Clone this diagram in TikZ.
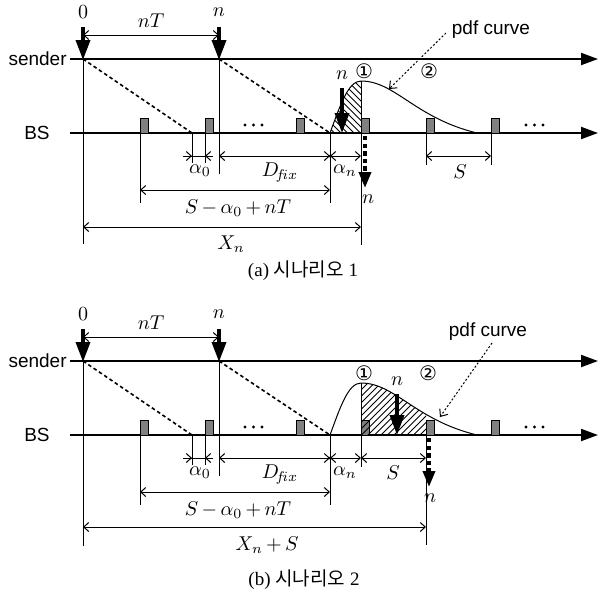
\documentclass[tikz,border=0pt]{standalone}
\usepackage{fontspec}
\setmainfont{Liberation Serif}
\newfontfamily\arialf{Liberation Sans}
\newfontfamily\korf{Noto Sans CJK KR}
\newfontfamily\symf{DejaVu Sans}
\usetikzlibrary{arrows.meta}
\tikzset{
 axisline/.style={line width=1pt,-{Triangle[length=8.5pt,width=6pt]}},
 thinline/.style={line width=0.5pt},
 bigarrow/.style={line width=1.8pt,-{Triangle[length=10pt,width=7pt]}},
 dasharrow/.style={line width=1.8pt,dash pattern=on 2.2pt off 1.6pt,-{Triangle[length=8pt,width=6pt]}},
 dimline/.style={line width=0.5pt,{Straight Barb[length=2.5pt,width=4.5pt]}-{Straight Barb[length=2.5pt,width=4.5pt]}},
 barbend/.style={line width=0.5pt,-{Straight Barb[length=2.5pt,width=4.5pt]}},
 pulse/.style={draw=black,line width=0.4pt,fill=gray},
 slant/.style={line width=0.8pt,dash pattern=on 1.8pt off 1.4pt},
 pointer/.style={line width=0.5pt,dash pattern=on 1pt off 1pt,-{Straight Barb[length=3pt,width=5pt]}},
 pdfline/.style={line width=0.5pt},
 hatch/.style={line width=0.5pt},
 sans/.style={font=\fontsize{9.5}{11}\selectfont\arialf,inner sep=0pt},
 mlabel/.style={font=\fontsize{10}{12}\selectfont,inner sep=0pt},
 circnum/.style={font=\fontsize{10}{11}\selectfont\symf,inner sep=0pt},
 capt/.style={font=\fontsize{9.5}{11}\selectfont,inner sep=0pt},
}
\newcommand\commonparts[1]{%
 \draw[axisline] (70,59) -- (598,59);
 \draw[axisline] (70,133) -- (598,133);
 \node[sans,anchor=east] (snd#1) at (67,59) {sender};
 \node[sans] (bs#1) at (37,133) {BS};
 \node[mlabel] (zero#1) at (83,12) {$0$};
 \node[mlabel] (ntop#1) at (219,12) {$n$};
 \draw[slant] (83,59) -- (192,133);
 \draw[slant] (219,59) -- (330,133);
 \foreach \x in {140,205,296,361,426,491} \draw[pulse] (\x,133) rectangle ++(8,-15);
 \foreach \x in {245,253.5,262,526,534.5,543} \fill (\x,125) circle (1.7);
 \draw[thinline] (83,59) -- (83,244);
 \draw[thinline] (140,133) -- (140,203);
 \draw[thinline] (192,133) -- (192,163);
 \draw[thinline] (205,133) -- (205,163);
 \draw[thinline] (219,59) -- (219,174);
 \draw[thinline] (330,133) -- (330,203);
 \draw[bigarrow] (83,27) -- (83,60);
 \draw[bigarrow] (219,27) -- (219,60);
 \draw[dimline] (83,35) -- (219,35);
 \node[mlabel] (nT#1) at (151,21) {$nT$};
 \draw[thinline] (183,156) -- (213,156);
 \draw[barbend] (183,156) -- (192,156);
 \draw[barbend] (213,156) -- (205,156);
 \node[mlabel] (a0#1) at (200,171) {$\alpha_0$};
 \draw[dimline] (219,156) -- (330,156);
 \node[mlabel] (dfix#1) at (280,173) {$D_{\!f\!ix}$};
 \draw[dimline] (330,156) -- (361,156);
 \fill (330,156) circle (1.5);
 \node[mlabel] (an#1) at (345,171) {$\alpha_n$};
 \draw[dimline] (140,190) -- (330,190);
 \node[mlabel] (sum#1) at (238,208) {$S\,{-}\,\alpha_0\,{+}\,nT$};
}
\begin{document}
\begin{tikzpicture}[x=0.5pt,y=-0.5pt]
\useasboundingbox (0,0) rectangle (600,596);
% ---------- scenario (a)
\commonparts{a}
\begin{scope}
 \clip (330,133) .. controls (340,106) and (348,81) .. (361,81) -- (361,133) -- cycle;
 \foreach \k in {-14,...,6} \draw[hatch] (330+\k*6.5,70) -- ++(70,70);
\end{scope}
\draw[pdfline] (330,133) .. controls (340,106) and (348,81) .. (361,81) .. controls (395,81) and (415,118) .. (477,133);
\draw[thinline] (361,81) -- (361,245);
\draw[thinline] (426,133) -- (426,165);
\draw[thinline] (491,133) -- (491,165);
\draw[dimline] (426,156) -- (491,156);
\node[mlabel] (Sa) at (460,172) {$S$};
\draw[dimline] (83,227) -- (361,227);
\node[mlabel] (Xa) at (231,244) {$X_n$};
\draw[bigarrow] (342,88) -- (342,133);
\node[mlabel] (na1) at (342,75) {$n$};
\draw[dasharrow] (365,136) -- (365,188);
\node[mlabel] (na2) at (368,199) {$n$};
\node[circnum] (c1a) at (364,71) {①};
\node[circnum] (c2a) at (429,71) {②};
\node[sans] (pdfa) at (491,30) {pdf curve};
\draw[pointer] (446,33) -- (389,89);
\node[capt] (capa) at (303,271) {(a) {\korf 시나리오} 1};
% ---------- scenario (b)
\begin{scope}[yshift=-151pt]
\commonparts{b}
\begin{scope}
 \clip (361,60) rectangle (426,133);
 \clip (361,81) .. controls (395,81) and (415,118) .. (477,133) -- (361,133) -- cycle;
 \foreach \k in {-12,...,12} \draw[hatch] (361+\k*6.5,140) -- ++(80,-80);
\end{scope}
\draw[pdfline] (330,133) .. controls (340,106) and (348,81) .. (361,81) .. controls (395,81) and (415,118) .. (477,133);
\draw[thinline] (361,81) -- (361,165);
\draw[thinline] (426,133) -- (426,243);
\draw[dimline] (361,156) -- (426,156);
\node[mlabel] (Sb) at (393,171) {$S$};
\draw[dimline] (83,225) -- (426,225);
\node[mlabel] (Xb) at (267,243) {$X_n\,{+}\,S$};
\draw[bigarrow] (397,92) -- (397,133);
\node[mlabel] (nb1) at (397,79) {$n$};
\draw[dasharrow] (429,136) -- (429,185);
\node[mlabel] (nb2) at (430,196) {$n$};
\node[circnum] (c1b) at (364,71) {①};
\node[circnum] (c2b) at (428,71) {②};
\node[sans] (pdfb) at (488,30) {pdf curve};
\draw[pointer] (492,41) -- (440,115);
\node[capt] (capb) at (304,278) {(b) {\korf 시나리오} 2};
\end{scope}
\end{tikzpicture}
\end{document}
